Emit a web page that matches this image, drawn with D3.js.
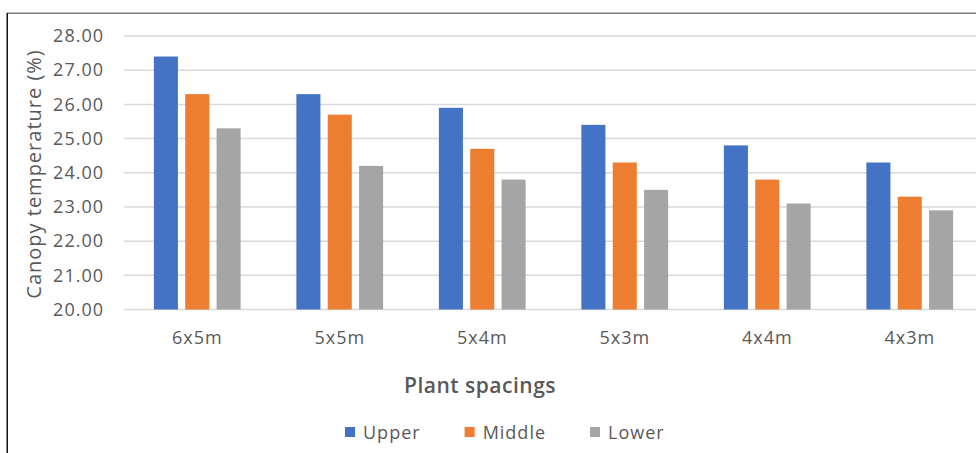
<!DOCTYPE html>
<html>
<head>
<meta charset="utf-8">
<script src="https://cdn.jsdelivr.net/npm/d3@7/dist/d3.min.js"></script>
<style>
  html, body { margin: 0; padding: 0; background: #ffffff; }
  svg { display: block; }
  text { font-family: "Open Sans", "Noto Sans", sans-serif; fill: #595959; }
</style>
</head>
<body>
<svg id="chart" width="976" height="453"></svg>
<script>
// Canopy temperature by plant spacing and canopy layer
const spacings = ["6x5m", "5x5m", "5x4m", "5x3m", "4x4m", "4x3m"];
const layers = ["Upper", "Middle", "Lower"];
const upper  = [27.4, 26.3, 25.9, 25.4, 24.8, 24.3];
const middle = [26.3, 25.7, 24.7, 24.3, 23.8, 23.3];
const lower  = [25.3, 24.2, 23.8, 23.5, 23.1, 22.9];
const yTicks = [20, 21, 22, 23, 24, 25, 26, 27, 28];
const layerColors = ["#4472C4", "#ED7D31", "#A5A5A5"];

const seriesValues = [upper, middle, lower];
const rows = spacings.map((s, i) => ({
  spacing: s,
  values: layers.map((l, j) => ({ layer: l, value: seriesValues[j][i] }))
}));

const svg = d3.select("#chart");

// outer frame (top and left edges)
svg.append("line").attr("x1", 7).attr("x2", 976).attr("y1", 13.25).attr("y2", 13.25)
  .attr("stroke", "#7a7a7a").attr("stroke-width", 1.5);
svg.append("line").attr("x1", 7.25).attr("x2", 7.25).attr("y1", 13).attr("y2", 453)
  .attr("stroke", "#111").attr("stroke-width", 1.5);

const x0 = d3.scaleBand().domain(spacings).range([126, 981])
  .paddingInner(0.34).paddingOuter(0.17);
const x1 = d3.scaleBand().domain(layers).range([0, x0.bandwidth()])
  .paddingInner(0.233).paddingOuter(0.1165);
const y = d3.scaleLinear().domain([20, 28]).range([309.5, 36]);
const color = d3.scaleOrdinal().domain(layers).range(layerColors);

// horizontal gridlines
svg.append("g").selectAll("line").data(yTicks).join("line")
  .attr("x1", 124).attr("x2", 976)
  .attr("y1", d => y(d)).attr("y2", d => y(d))
  .attr("stroke", "#d9d9d9").attr("stroke-width", 1.5);

// y tick labels
const yAxis = d3.axisLeft(y).tickValues(yTicks).tickFormat(d3.format(".2f")).tickSize(0).tickPadding(0);
const gy = svg.append("g").attr("transform", "translate(104,0)").call(yAxis);
gy.select(".domain").remove();
gy.selectAll("text").attr("font-size", 18).attr("letter-spacing", 1)
  .attr("fill", "#595959").style("font-family", "'Open Sans', sans-serif");

// bars
const groups = svg.append("g").selectAll("g").data(rows).join("g")
  .attr("transform", d => `translate(${x0(d.spacing)},0)`);
groups.selectAll("rect").data(d => d.values).join("rect")
  .attr("x", d => x1(d.layer))
  .attr("width", x1.bandwidth())
  .attr("y", d => y(d.value))
  .attr("height", d => y(20) - y(d.value))
  .attr("fill", d => color(d.layer));

// category labels
const xAxis = d3.axisBottom(x0).tickSize(0).tickPadding(0);
const gx = svg.append("g").attr("transform", "translate(0,344)").call(xAxis);
gx.select(".domain").remove();
gx.selectAll("text").attr("font-size", 18).attr("letter-spacing", 1).attr("dy", 0)
  .attr("fill", "#595959").style("font-family", "'Open Sans', sans-serif");

// axis titles
svg.append("text").attr("x", 480).attr("y", 393).attr("text-anchor", "middle")
  .attr("font-size", 21).attr("font-weight", 600).attr("letter-spacing", 0.5)
  .text("Plant spacings");
svg.append("text").attr("transform", "translate(41,174) rotate(-90)")
  .attr("text-anchor", "middle").attr("font-size", 20).attr("letter-spacing", 1)
  .text("Canopy temperature (%)");

// legend
const legend = svg.append("g").attr("transform", "translate(345,432)");
let lx = 0;
layers.forEach((l, i) => {
  const item = legend.append("g").attr("transform", `translate(${lx},0)`);
  item.append("rect").attr("x", 0).attr("y", -5).attr("width", 10).attr("height", 10)
    .attr("fill", color(l));
  const t = item.append("text").attr("x", 18).attr("y", 6.5)
    .attr("font-size", 18).attr("letter-spacing", 1).text(l);
  lx += 18 + t.node().getComputedTextLength() + 44;
});
</script>
</body>
</html>
